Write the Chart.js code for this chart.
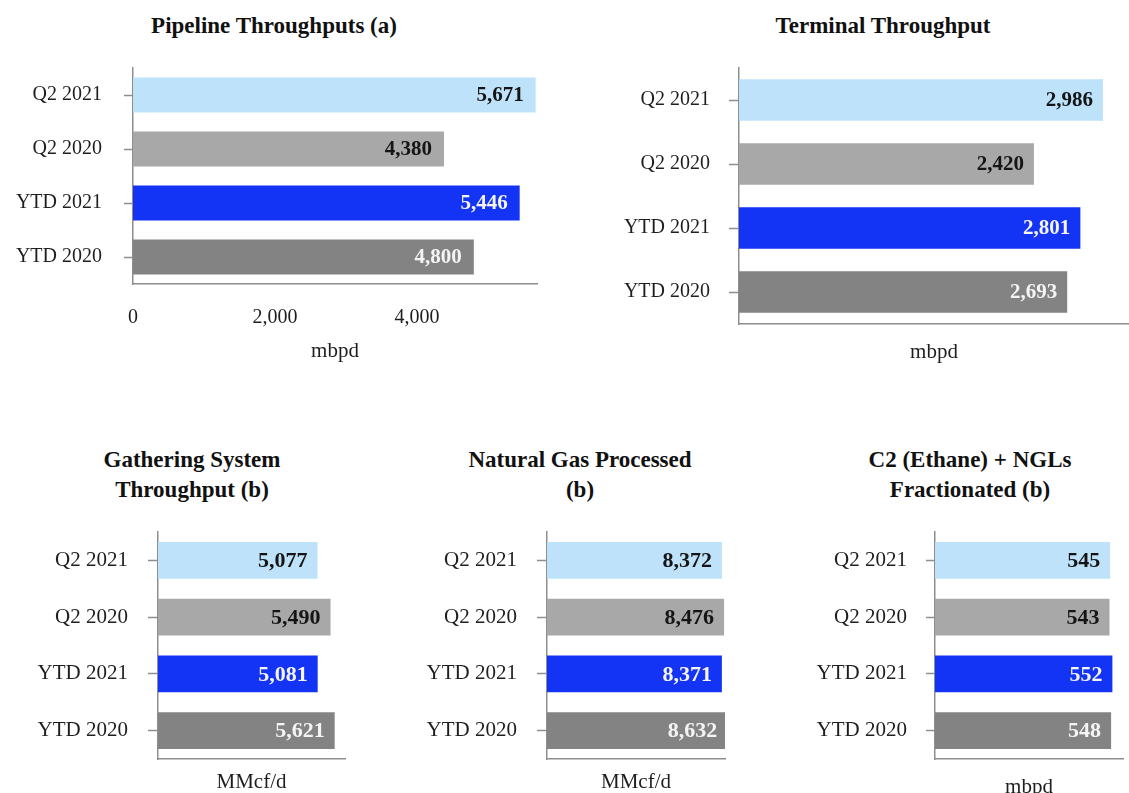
<!DOCTYPE html>
<html>
<head>
<meta charset="utf-8">
<script src="https://cdn.jsdelivr.net/npm/chart.js@4.4.0/dist/chart.umd.min.js"></script>
<style>
  html, body { margin: 0; padding: 0; background: #ffffff; }
  body { position: relative; width: 1129px; height: 793px; overflow: hidden; }
  canvas { position: absolute; }
  .panel-title {
    position: absolute;
    transform: translate(-50%, -50%);
    font: bold 23px 'Liberation Serif', 'Times New Roman', serif;
    line-height: 30px;
    color: #111111;
    text-align: center;
    white-space: nowrap;
  }
</style>
</head>
<body>
<script>
// ---- data ----
const categories = ['Q2 2021', 'Q2 2020', 'YTD 2021', 'YTD 2020'];

const pipelineThroughputs = [5671, 4380, 5446, 4800];      // mbpd
const terminalThroughput = [2986, 2420, 2801, 2693];       // mbpd
const gatheringThroughput = [5077, 5490, 5081, 5621];      // MMcf/d
const naturalGasProcessed = [8372, 8476, 8371, 8632];      // MMcf/d
const ethaneNglsFractionated = [545, 543, 552, 548];       // mbpd

const pipelineTickValues = [0, 2000, 4000];

// ---- styles ----
const barColors = ['#bee2fa', '#a8a8a8', '#1434f5', '#838383'];
const valueColors = ['#151515', '#151515', '#f4f4f4', '#f4f4f4'];
const axisColor = '#8e8e8e';
const serif = "'Liberation Serif', 'Times New Roman', serif";

// ---- panel layout (plot-area box in page pixels) ----
const panels = [
  { title: ['Pipeline Throughputs (a)'], titleX: 274, titleY: 26,
    values: pipelineThroughputs, unit: 'mbpd', max: 5690, ticks: pipelineTickValues,
    area: { left: 133, top: 68, right: 537, bottom: 284 }, axisH: 80,
    tickLen: 9, tickPad: 22, labelSize: 20, valueSize: 21, unitSize: 21, inset: 12 },
  { title: ['Terminal Throughput'], titleX: 883, titleY: 26,
    values: terminalThroughput, unit: 'mbpd', max: 3200, ticks: null,
    area: { left: 739, top: 68, right: 1129, bottom: 324 }, axisH: 41,
    tickLen: 10, tickPad: 19, labelSize: 20, valueSize: 21, unitSize: 21, inset: 10 },
  { title: ['Gathering System', 'Throughput (b)'], titleX: 192, titleY: 475,
    values: gatheringThroughput, unit: 'MMcf/d', max: 5950, ticks: null,
    area: { left: 158, top: 532, right: 345, bottom: 759 }, axisH: 36,
    tickLen: 10, tickPad: 20, labelSize: 21, valueSize: 22, unitSize: 21, inset: 10 },
  { title: ['Natural Gas Processed', '(b)'], titleX: 580, titleY: 475,
    values: naturalGasProcessed, unit: 'MMcf/d', max: 8520, ticks: null,
    area: { left: 547, top: 532, right: 725, bottom: 759 }, axisH: 36,
    tickLen: 10, tickPad: 20, labelSize: 21, valueSize: 22, unitSize: 21, inset: 10 },
  { title: ['C2 (Ethane) + NGLs', 'Fractionated (b)'], titleX: 970, titleY: 475,
    values: ethaneNglsFractionated, unit: 'mbpd', max: 585, ticks: null,
    area: { left: 935, top: 532, right: 1123, bottom: 759 }, axisH: 41,
    tickLen: 9, tickPad: 19, labelSize: 21, valueSize: 22, unitSize: 21, inset: 10 }
];

// Bold figures written inside the end of each bar
const barValueLabels = {
  id: 'barValueLabels',
  afterDatasetsDraw(chart, args, opts) {
    const ctx = chart.ctx;
    const meta = chart.getDatasetMeta(0);
    const data = chart.data.datasets[0].data;
    ctx.save();
    ctx.font = 'bold ' + opts.size + 'px ' + serif;
    ctx.textAlign = 'right';
    ctx.textBaseline = 'middle';
    meta.data.forEach((bar, i) => {
      ctx.fillStyle = valueColors[i];
      ctx.fillText(data[i].toLocaleString('en-US'), bar.x - opts.inset, bar.y + 1);
    });
    ctx.restore();
  }
};

// keep the plot box fixed: no extra room reserved for overhanging labels
function clearScalePadding(s) {
  s.paddingTop = 0; s.paddingBottom = 0;
  s.paddingLeft = 0; s.paddingRight = 0;
}

const TOP_PAD = 4;
const RIGHT_PAD = 6;

panels.forEach((p) => {
  // heading
  const t = document.createElement('div');
  t.className = 'panel-title';
  t.style.left = p.titleX + 'px';
  t.style.top = p.titleY + 'px';
  t.innerHTML = p.title.join('<br>');
  document.body.appendChild(t);

  // canvas sized so the plot area lands on p.area
  const yAxisW = p.area.left;
  const rightPad = Math.min(RIGHT_PAD, 1129 - p.area.right);
  const w = p.area.right + rightPad;
  const h = TOP_PAD + (p.area.bottom - p.area.top) + p.axisH;
  const c = document.createElement('canvas');
  c.width = w; c.height = h;
  c.style.left = '0px';
  c.style.top = (p.area.top - TOP_PAD) + 'px';
  c.style.width = w + 'px'; c.style.height = h + 'px';
  document.body.appendChild(c);

  new Chart(c, {
    type: 'bar',
    data: {
      labels: categories,
      datasets: [{
        data: p.values,
        backgroundColor: barColors,
        borderWidth: 0,
        categoryPercentage: 1,
        barPercentage: 0.65
      }]
    },
    plugins: [barValueLabels],
    options: {
      indexAxis: 'y',
      responsive: false,
      animation: false,
      events: [],
      layout: { autoPadding: false, padding: { top: TOP_PAD, right: rightPad, bottom: 0, left: 0 } },
      plugins: {
        legend: { display: false },
        tooltip: { enabled: false },
        title: { display: false },
        barValueLabels: { size: p.valueSize, inset: p.inset }
      },
      scales: {
        x: {
          type: 'linear',
          min: 0,
          max: p.max,
          afterFit: (s) => { s.height = p.axisH; clearScalePadding(s); },
          afterBuildTicks: (s) => {
            if (p.ticks) s.ticks = p.ticks.map((v) => ({ value: v }));
          },
          grid: { display: false, drawTicks: false },
          border: { display: true, color: axisColor, width: 1.5 },
          ticks: {
            display: !!p.ticks,
            includeBounds: false,
            autoSkip: false,
            maxRotation: 0,
            padding: 22,
            color: '#1e1e1e',
            font: { family: serif, size: 20 },
            callback: (v) => Number(v).toLocaleString('en-US')
          },
          title: {
            display: true,
            text: p.unit,
            color: '#1e1e1e',
            padding: 0,
            font: { family: serif, size: p.unitSize }
          }
        },
        y: {
          type: 'category',
          afterFit: (s) => { s.width = yAxisW; clearScalePadding(s); },
          grid: {
            display: true,
            offset: false,
            drawOnChartArea: false,
            drawTicks: true,
            tickLength: p.tickLen,
            tickColor: axisColor,
            tickWidth: 1.5
          },
          border: { display: true, color: axisColor, width: 1.5 },
          ticks: {
            padding: p.tickPad,
            color: '#1e1e1e',
            font: { family: serif, size: p.labelSize }
          }
        }
      }
    }
  });
});
</script>
</body>
</html>
